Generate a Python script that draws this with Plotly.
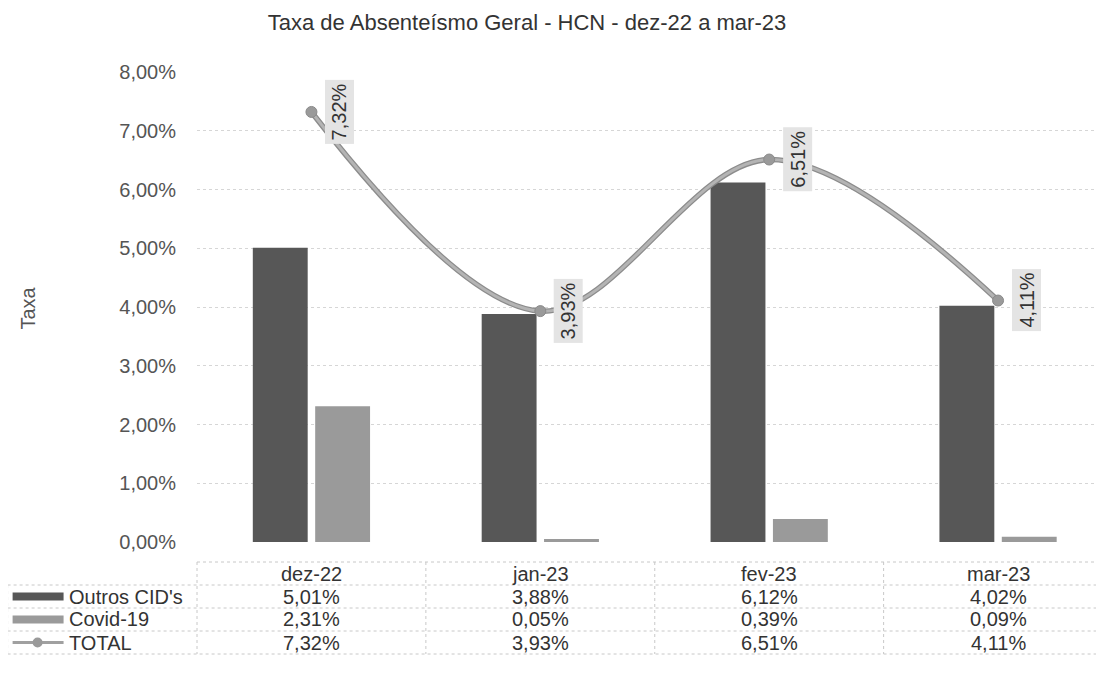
import plotly.graph_objects as go

MONTHS = ["dez-22", "jan-23", "fev-23", "mar-23"]
OUTROS = [0.0501, 0.0388, 0.0612, 0.0402]
COVID = [0.0231, 0.0005, 0.0039, 0.0009]
TOTAL = [0.0732, 0.0393, 0.0651, 0.0411]
SERIES = ["Outros CID's", "Covid-19", "TOTAL"]

FONT = "Liberation Sans, Arial, sans-serif"
C_OUTROS = "#575757"
C_COVID = "#9a9a9a"
GRID = "#d6d6d6"

# page has an 8px body margin, so the figure is a bit smaller than the window
OFF = 8
W, H = 1104 - OFF, 680 - OFF
# plot area in window pixels: left, right, top (8%), bottom (0%)
L, R, T, B = 196.5, 1104, 72, 542


def py(ypx):
    return (B - ypx) / (B - T)


def px(xpx):
    return (xpx - L) / (R - L)


def pct(v):
    return f"{v * 100:.2f}%".replace(".", ",")


fig = go.Figure()

fig.add_trace(go.Bar(x=MONTHS, y=OUTROS, name=SERIES[0], marker_color=C_OUTROS,
                     marker_line_width=0))
fig.add_trace(go.Bar(x=MONTHS, y=COVID, name=SERIES[1], marker_color=C_COVID,
                     marker_line_width=0))

# TOTAL line (darker underlay gives the edged look)
fig.add_trace(go.Scatter(x=MONTHS, y=TOTAL, mode="lines", line=dict(color="#8c8c8c", width=5.5,
                         shape="spline", smoothing=1), hoverinfo="skip"))
fig.add_trace(go.Scatter(x=MONTHS, y=TOTAL, mode="lines+markers", name=SERIES[2],
                         line=dict(color="#b4b4b4", width=3, shape="spline", smoothing=1),
                         marker=dict(size=11, color="#9a9a9a", line=dict(color="#8a8a8a", width=1))))

# data labels (rotated, grey box)
for m, v in zip(MONTHS, TOTAL):
    fig.add_annotation(x=m, y=v, xref="x", yref="y", text=pct(v), showarrow=False,
                       textangle=-90, xshift=28, yanchor="middle", xanchor="center",
                       bgcolor="#e4e4e4", borderpad=3,
                       font=dict(size=20, color="#333", family=FONT))

# data table under the chart
rows_y = [562, 585, 608, 631, 654]
line_style = dict(color="#c8c8c8", width=1, dash="dot")
fig.add_shape(type="line", xref="paper", yref="paper", x0=0, x1=1,
              y0=py(rows_y[0]), y1=py(rows_y[0]), line=line_style)
for yy in rows_y[1:]:
    fig.add_shape(type="line", xref="paper", yref="paper", x0=px(7), x1=1,
                  y0=py(yy), y1=py(yy), line=line_style)
fig.add_shape(type="line", xref="paper", yref="paper", x0=px(7), x1=px(7),
              y0=py(rows_y[1]), y1=py(rows_y[-1]), line=line_style)
fig.add_shape(type="line", xref="paper", yref="paper", x0=0, x1=0,
              y0=py(rows_y[0]), y1=py(rows_y[-1]), line=line_style)
for i in range(len(MONTHS) - 1):
    fig.add_shape(type="line", xref="x", yref="paper", x0=i + 0.5, x1=i + 0.5,
                  y0=py(rows_y[0]), y1=py(rows_y[-1]), line=line_style)

cell_font = dict(size=20, color="#333", family=FONT)
for m in MONTHS:
    fig.add_annotation(x=m, xref="x", yref="paper", y=py(574), text=m,
                       xanchor="center", yanchor="middle", showarrow=False, font=cell_font)


def row_mid(r):
    return (rows_y[r + 1] + rows_y[r + 2]) / 2


for r, vals in enumerate([OUTROS, COVID, TOTAL]):
    yc = py(row_mid(r))
    for m, v in zip(MONTHS, vals):
        fig.add_annotation(x=m, xref="x", yref="paper", y=yc, text=pct(v),
                           xanchor="center", yanchor="middle", showarrow=False, font=cell_font)
    fig.add_annotation(x=px(66), xref="paper", yref="paper", y=yc, text=SERIES[r],
                       xanchor="left", yanchor="middle", showarrow=False, font=cell_font)

# legend keys inside the table
for r, col in enumerate([C_OUTROS, C_COVID]):
    fig.add_shape(type="rect", xref="paper", yref="paper", x0=px(12), x1=px(63),
                  y0=py(row_mid(r) - 4), y1=py(row_mid(r) + 4), fillcolor=col, line_width=0)
fig.add_shape(type="line", xref="paper", yref="paper", x0=px(12), x1=px(63),
              y0=py(row_mid(2)), y1=py(row_mid(2)), line=dict(color="#a0a0a0", width=3))
fig.add_shape(type="circle", xref="paper", yref="paper", x0=px(32), x1=px(42),
              y0=py(row_mid(2) - 5), y1=py(row_mid(2) + 5), fillcolor="#9a9a9a", line_width=0)

# axis title
fig.add_annotation(x=px(27), y=py(308), xref="paper", yref="paper", text="Taxa",
                   xanchor="center", yanchor="middle", textangle=-90, showarrow=False,
                   font=dict(size=20, color="#555", family=FONT))

fig.update_layout(
    width=W, height=H,
    margin=dict(l=L - OFF, r=1104 - R, t=T - OFF, b=H - (B - OFF), pad=0),
    paper_bgcolor="white", plot_bgcolor="white",
    separators=",.",
    showlegend=False,
    barmode="group", bargap=0.455, bargroupgap=0.12,
    font=dict(family=FONT, color="#555"),
    title=dict(text="Taxa de Absenteísmo Geral - HCN - dez-22 a mar-23",
               xref="container", x=(527 - OFF) / W, xanchor="center",
               yref="container", y=1 - (22 - OFF) / H, yanchor="middle",
               font=dict(size=22, color="#333", family=FONT)),
)
fig.update_xaxes(type="category", range=[-0.5, -0.5 + (R - L) / 229], showticklabels=False,
                 showgrid=False, zeroline=False, showline=False)
fig.update_yaxes(range=[0, 0.08], dtick=0.01, tickformat=".2%", showgrid=True,
                 gridcolor=GRID, griddash="dot", zeroline=False, showline=False,
                 ticklabelstandoff=20, tickfont=dict(size=20, color="#555", family=FONT))

fig.write_html("out.html")
